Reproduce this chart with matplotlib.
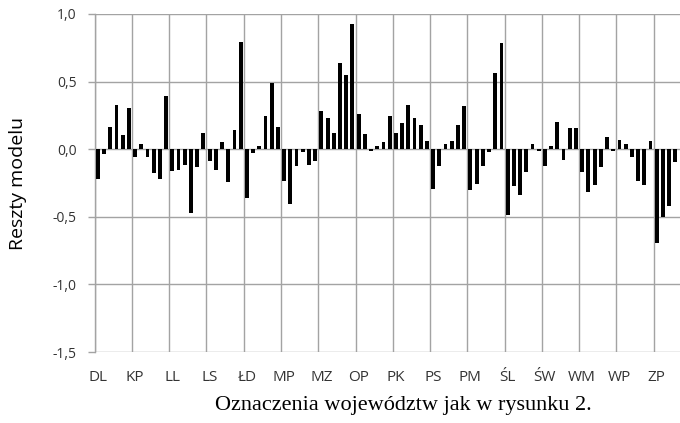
import matplotlib
matplotlib.use('Agg')
import matplotlib.pyplot as plt
import numpy as np

regions = ['DL', 'KP', 'LL', 'LS', 'ŁD', 'MP', 'MZ', 'OP',
           'PK', 'PS', 'PM', 'ŚL', 'ŚW', 'WM', 'WP', 'ZP']

res_DL = [-0.22, -0.037, 0.164, 0.33, 0.105, 0.306]
res_KP = [-0.061, 0.037, -0.061, -0.178, -0.22, 0.396]
res_LL = [-0.159, -0.152, -0.117, -0.47, -0.134, 0.122]
res_LS = [-0.086, -0.152, 0.051, -0.245, 0.139, 0.792]
res_LD = [-0.362, -0.029, 0.024, 0.247, 0.491, 0.164]
res_MP = [-0.237, -0.403, -0.127, -0.02, -0.117, -0.086]
res_MZ = [0.281, 0.232, 0.122, 0.641, 0.548, 0.927]
res_OP = [0.262, 0.112, -0.01, 0.027, 0.05, 0.247]
res_PK = [0.122, 0.191, 0.33, 0.232, 0.181, 0.064]
res_PS = [-0.293, -0.127, 0.037, 0.064, 0.181, 0.323]
res_PM = [-0.303, -0.254, -0.127, -0.022, 0.567, 0.785]
res_SL = [-0.489, -0.269, -0.337, -0.169, 0.037, -0.01]
res_SW = [-0.127, 0.024, 0.198, -0.078, 0.156, 0.156]
res_WM = [-0.169, -0.313, -0.262, -0.134, 0.09, -0.01]
res_WP = [0.071, 0.039, -0.059, -0.237, -0.262, 0.064]
res_ZP = [-0.697, -0.501, -0.421, -0.095]

y_ticks = [1.0, 0.5, 0.0, -0.5, -1.0, -1.5]
y_tick_labels = ['1,0', '0,5', '0,0', '-0,5', '-1,0', '-1,5']
y_label = 'Reszty modelu'
caption = 'Oznaczenia województw jak w rysunku 2.'

groups = [res_DL, res_KP, res_LL, res_LS, res_LD, res_MP, res_MZ, res_OP,
          res_PK, res_PS, res_PM, res_SL, res_SW, res_WM, res_WP, res_ZP]
n_per = 6
values = np.concatenate([np.array(g, dtype=float) for g in groups])
x = np.arange(len(values))

gridc = '#a3a3a3'
textc = '#333333'

fig = plt.figure(figsize=(6.8, 4.23), dpi=100)
W, H = 680, 423
left_px, right_px, top_px, bottom_px = 94.7, 680, 14, 352
ax = fig.add_axes([left_px / W, 1 - bottom_px / H,
                   (right_px - left_px) / W, (bottom_px - top_px) / H])

ax.bar(x, values, width=0.62, color='black', zorder=3)
ax.set_ylim(-1.5, 1.0)
ax.set_xlim(-0.5, 93.75)

for yv in y_ticks:
    ax.axhline(yv, color=gridc, lw=1.0, zorder=1)
for g in range(len(regions)):
    ax.axvline(g * n_per - 0.5, color=gridc, lw=1.0, zorder=1)

ax.set_yticks(y_ticks)
ax.set_yticklabels(y_tick_labels, fontfamily='Open Sans', fontsize=10, color=textc)
ax.set_xticks([g * n_per for g in range(len(regions))])
ax.set_xticklabels(regions, fontfamily='Open Sans', fontsize=11, color=textc)
ax.tick_params(axis='x', length=0, pad=13)
ax.tick_params(axis='y', length=5, width=1, color=gridc, pad=8)

for s in ['top', 'right', 'bottom']:
    ax.spines[s].set_visible(False)
ax.spines['left'].set_color(gridc)
ax.spines['left'].set_linewidth(1.0)

ax.set_ylabel(y_label, fontfamily='Open Sans', fontsize=14, color='black')
ax.yaxis.set_label_coords((27 - left_px) / (right_px - left_px), 0.5)

fig.text(403 / W, 1 - 405 / H, caption, family='Liberation Serif', fontsize=16,
         ha='center', va='center', color='black')

fig.savefig('out.png', dpi=100)
